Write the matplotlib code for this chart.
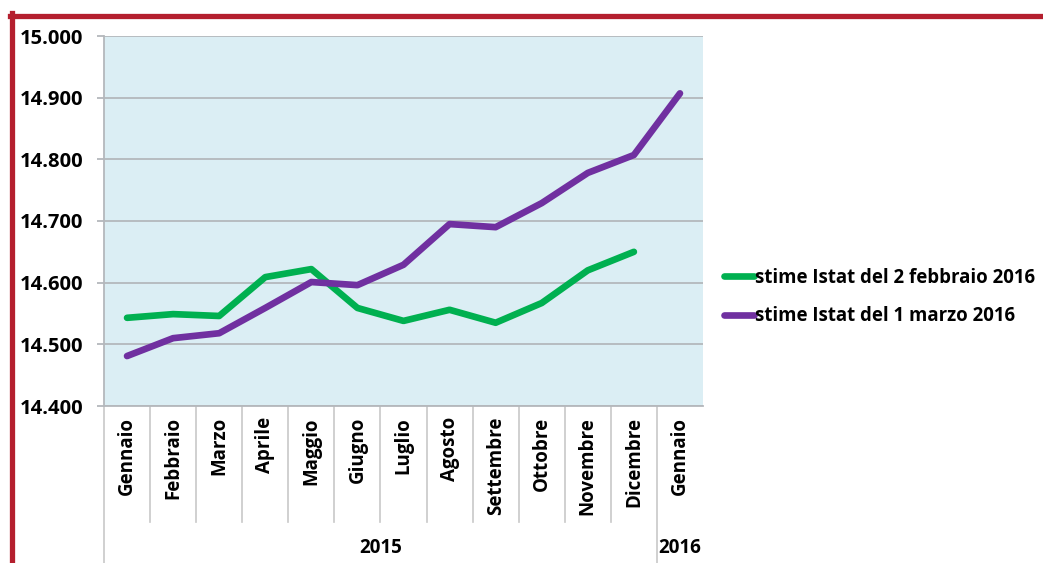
import numpy as np
import matplotlib
matplotlib.use("Agg")
import matplotlib.pyplot as plt
from matplotlib.lines import Line2D
import matplotlib.transforms as mtransforms

plt.rcParams['font.family'] = ['Open Sans', 'DejaVu Sans']
plt.rcParams['font.weight'] = 'bold'

months = ["Gennaio", "Febbraio", "Marzo", "Aprile", "Maggio", "Giugno",
          "Luglio", "Agosto", "Settembre", "Ottobre", "Novembre", "Dicembre",
          "Gennaio"]
years = ["2015", "2016"]
year_span = [12, 1]

# occupati (migliaia)
stime_feb = [14543, 14549, 14546, 14609, 14622, 14559, 14538, 14556,
             14535, 14567, 14620, 14650]
stime_mar = [14481, 14510, 14518, 14559, 14601, 14596, 14629, 14695,
             14690, 14729, 14778, 14807, 14907]

label_feb = "stime Istat del 2 febbraio 2016"
label_mar = "stime Istat del 1 marzo 2016"

W, H = 1043, 563
fig = plt.figure(figsize=(W / 100, H / 100), dpi=100)
ax = fig.add_axes([104 / W, 1 - 406 / H, (703 - 104) / W, (406 - 36) / H])
ax.set_facecolor('#DBEEF4')

x = np.arange(len(months))
ax.plot(x[:len(stime_feb)], stime_feb, color='#00B050', lw=4.8,
        solid_capstyle='round', solid_joinstyle='round', label=label_feb)
ax.plot(x[:len(stime_mar)], stime_mar, color='#7030A0', lw=4.8,
        solid_capstyle='round', solid_joinstyle='round', label=label_mar)

ax.set_xlim(-0.5, len(months) - 0.5)
ax.set_ylim(14400, 15000)
yt = np.arange(14400, 15001, 100)
ax.set_yticks(yt)
ax.set_yticklabels([f"{v:,.0f}".replace(',', '.') for v in yt], fontsize=14.5,
                   fontweight='bold')
ax.yaxis.grid(True, color='#B4B8BC', lw=1.3)
ax.set_axisbelow(True)
ax.tick_params(axis='y', length=5, width=1.3, color='#B4B8BC', pad=10)

ax.set_xticks(x)
ax.set_xticklabels(months, rotation=90, fontsize=13.5, fontweight='bold',
                   va='top')
ax.tick_params(axis='x', length=0, pad=8)

for s in ['top', 'right']:
    ax.spines[s].set_visible(False)
for s in ['left', 'bottom']:
    ax.spines[s].set_color('#B4B8BC')
    ax.spines[s].set_linewidth(1.3)

# separators of the multi-level category axis
trans = mtransforms.blended_transform_factory(ax.transData, ax.transAxes)
low_month = -(522 - 406) / 370
low_year = -(563 - 406) / 370
bounds = np.cumsum([0] + year_span) - 0.5
for xs in x[:-1] + 0.5:
    bottom = low_year if xs in bounds else low_month
    ax.add_line(Line2D([xs, xs], [0, bottom], transform=trans, color='#C8C8C8',
                       lw=1.2, clip_on=False))
ax.add_line(Line2D([-0.5, -0.5], [0, low_year], transform=trans,
                   color='#C8C8C8', lw=1.2, clip_on=False))
for i, yr in enumerate(years):
    xc = (bounds[i] + bounds[i + 1]) / 2
    ax.text(xc, -(548 - 406) / 370, yr, transform=trans, ha='center',
            va='center', fontsize=13.5, fontweight='bold')

fig.legend(loc='upper left', bbox_to_anchor=(707 / W, 1 - 251 / H),
           frameon=False, handlelength=1.6, handletextpad=0.1,
           labelspacing=1.0, prop={'weight': 'bold', 'size': 13.4})

# red frame
red = '#B41F2E'
fig.add_artist(Line2D([10 / W, 1], [1 - 15.5 / H, 1 - 15.5 / H],
                      transform=fig.transFigure, color=red, lw=3.8))
fig.add_artist(Line2D([12 / W, 12 / W], [1 - 13 / H, 0],
                      transform=fig.transFigure, color=red, lw=3.8))

fig.savefig("out.png", dpi=100)
